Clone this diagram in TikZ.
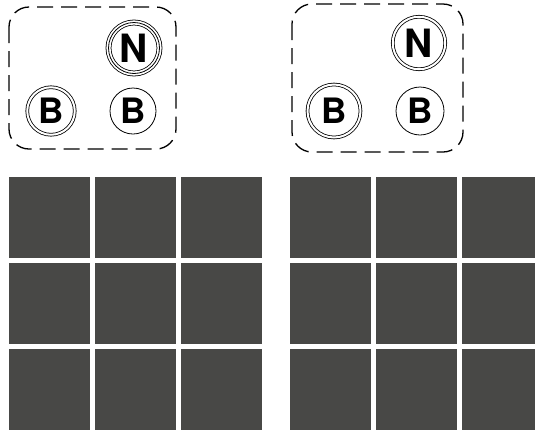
\documentclass[tikz,border=0pt]{standalone}
\usepackage{fontspec}
\setmainfont{TeX Gyre Heros}
\usepackage{xcolor}
\usepackage{tikz}
\definecolor{vcell}{RGB}{72,72,70}

\begin{document}
\begin{tikzpicture}[x=1pt, y=-1pt,
  piece/.style={circle, draw, inner sep=0pt, line width=0.8pt, font=\bfseries\fontsize{39}{39}\selectfont},
  pawn/.style={piece, font=\bfseries\fontsize{35}{35}\selectfont},
  ring2/.style={double, double distance=2pt},
  ring3/.style={preaction={draw, line width=0.8pt, double, double distance=4.2pt}},
  zone/.style={draw, dash pattern=on 16pt off 8pt, line width=1.3pt, rounded corners=20pt},
  cell/.style={fill=vcell}
]
\clip (0,0) rectangle (535,429);
% left panel
\draw[zone] (9,7) rectangle (176,149);
\node[piece, ring3, minimum size=51pt] (n1) at (134,48) {N};
\node[pawn, ring2, minimum size=47.5pt] (b1) at (51,111) {B};
\node[pawn, minimum size=46pt] (b2) at (133,111) {B};
% right panel
\draw[zone] (292,4) rectangle (463,152);
\node[piece, ring2, minimum size=52.5pt] (n2) at (419,43) {N};
\node[pawn, ring2, minimum size=53pt] (b3) at (334,111) {B};
\node[pawn, minimum size=48pt] (b4) at (420,111) {B};
% boards
\foreach \bx in {9,290}
  \foreach \i in {0,1,2}
    \foreach \j in {0,1,2}
      \fill[cell] (\bx+86*\i, 177+86*\j) rectangle ++(81,81);
\end{tikzpicture}
\end{document}
